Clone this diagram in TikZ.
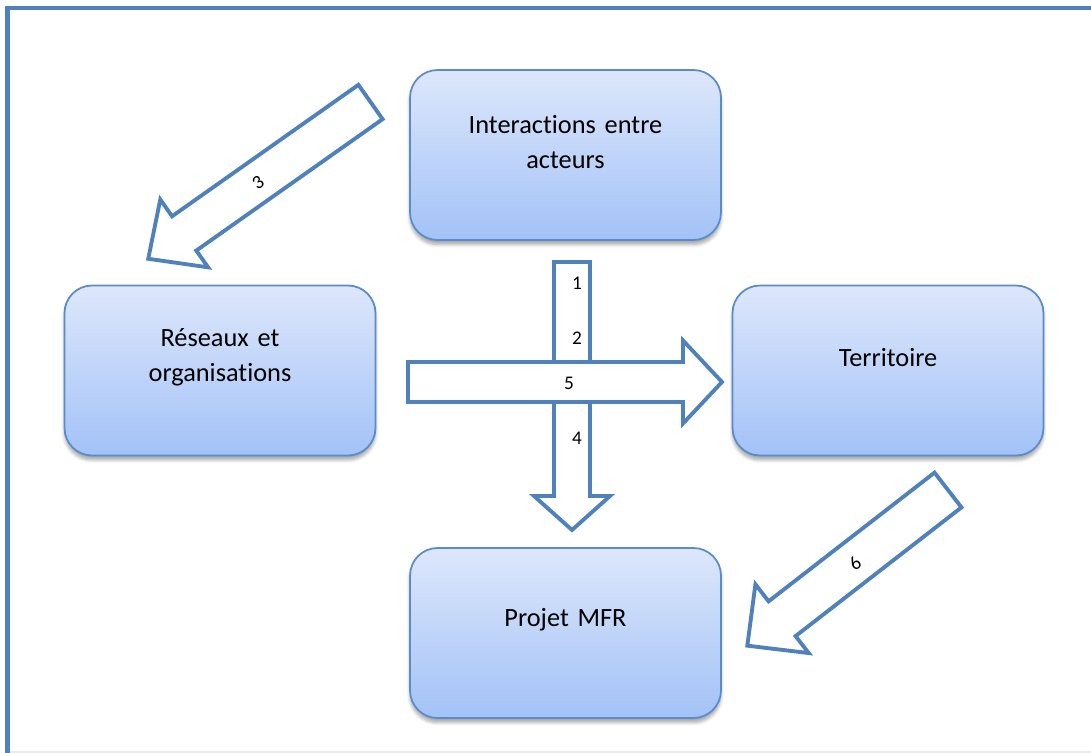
\documentclass[tikz,border=0pt]{standalone}
\usepackage{fontspec}
\setmainfont{Carlito}[Ligatures=NoCommon]
\usepackage{tikz}
\usetikzlibrary{calc}
\usetikzlibrary{shadows.blur}
\definecolor{bordbloc}{HTML}{5B8BC9}
\definecolor{hautbloc}{HTML}{DDE7FB}
\definecolor{basbloc}{HTML}{A3C2F7}
\definecolor{bleuoffice}{HTML}{4F81BD}
\tikzstyle{bloc}=[draw=bordbloc, line width=1pt, rounded corners=0.55cm,
  top color=hautbloc, bottom color=basbloc,
  minimum width=6.22cm, minimum height=3.4cm, text width=5.8cm, align=center,
  font=\fontsize{15}{20}\selectfont,
  execute at end node={\endgraf\vspace*{0.52cm}},
  blur shadow={shadow xshift=0pt, shadow yshift=-0.09cm, shadow opacity=35, shadow blur steps=6}]
\tikzstyle{fleche}=[draw=bleuoffice, line width=2.2pt, fill=white, line join=miter]
\tikzstyle{chiffre}=[font=\fontsize{11}{13}\selectfont, inner sep=1pt]
% fleche bloc : origine, angle, longueur, largeur du corps, largeur de la tete, longueur de la tete
\newcommand{\flechebloc}[6]{%
  \draw[fleche, shift={(#1)}, rotate=#2] (0,-#4/2) -- (#3-#6,-#4/2) -- (#3-#6,-#5/2) -- (#3,0)
    -- (#3-#6,#5/2) -- (#3-#6,#4/2) -- (0,#4/2) -- cycle;}

\begin{document}
\begin{tikzpicture}[x=0.02cm, y=-0.02cm]
  \useasboundingbox (0,0) rectangle (1091,753);
  \clip (0,0) rectangle (1091,753);
  \draw [bleuoffice, line width=2.8pt] (7.5,8) rectangle (1120,780);
  \draw [black!8, line width=0.6pt] (10,752) -- (1091,752);

  \node [bloc] (inter) at (565.5,155) {Interactions entre\\acteurs};
  \node [bloc] (reseaux) at (220,370.5) {Réseaux et\\organisations};
  \node [bloc] (terr) at (888,370.5) {Territoire};
  \node [bloc] (mfr) at (565.5,633) {Projet MFR};

  \coordinate (q3) at (370.5,102);
  \coordinate (q6) at (948,490);
  \coordinate (q14) at (572,262);
  \coordinate (q5) at (408,382);

  \flechebloc{q3}{215.2}{272}{42}{83}{44}
  \flechebloc{q6}{217.8}{254}{44}{87}{44}
  \flechebloc{q14}{270}{268}{36}{76}{34}
  \flechebloc{q5}{0}{314}{40}{83}{39}

  \node [chiffre, rotate=35] (n3) at (258,183) {3};
  \node [chiffre, rotate=38] (n6) at (855,563) {6};
  \node [chiffre] (n1) at (577,283) {1};
  \node [chiffre] (n2) at (577,338) {2};
  \node [chiffre] (n5) at (569,383) {5};
  \node [chiffre] (n4) at (577,438) {4};
\end{tikzpicture}
\end{document}
